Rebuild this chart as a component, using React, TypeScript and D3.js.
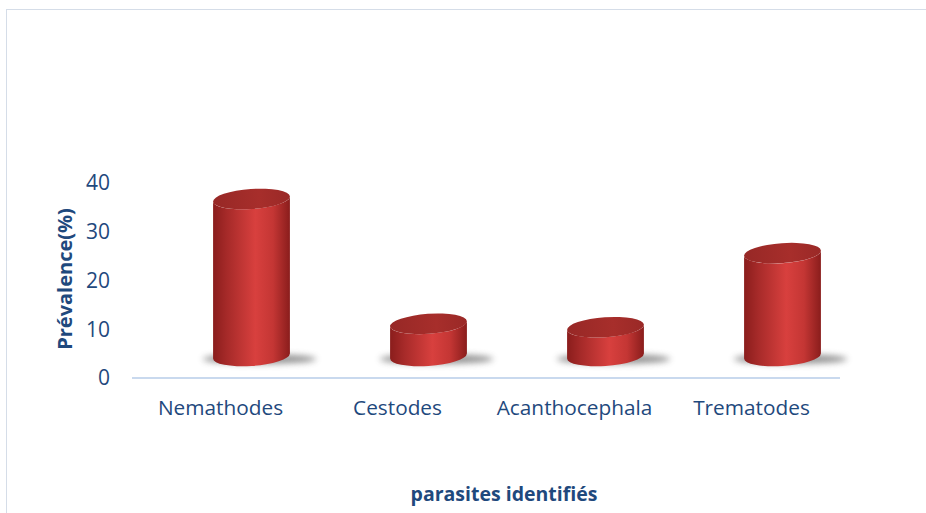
import React from "react";
import * as d3 from "d3";

const categories = ["Nemathodes", "Cestodes", "Acanthocephala", "Trematodes"];
const values = [32.2, 6.6, 5.9, 21.1];
const yTicks = [0, 10, 20, 30, 40];
const yTitle = "Prévalence(%)";
const xTitle = "parasites identifiés";

const W = 926;
const H = 513;

function extremes(cx: number, cy: number, rx: number, ry: number, deg: number) {
  const th = (deg * Math.PI) / 180;
  const t0 = Math.atan2(-ry * Math.sin(th), rx * Math.cos(th));
  const pt = (t: number) => [
    cx + rx * Math.cos(t) * Math.cos(th) - ry * Math.sin(t) * Math.sin(th),
    cy + rx * Math.cos(t) * Math.sin(th) + ry * Math.sin(t) * Math.cos(th),
  ];
  const a = pt(t0);
  const b = pt(t0 + Math.PI);
  return a[0] < b[0] ? { left: a, right: b } : { left: b, right: a };
}

export default function App() {
  const x = d3.scaleBand<string>().domain(categories).range([132, 840]).padding(0);
  const y = d3.scaleLinear().domain([0, 40]).range([378, 183]);
  const depthDx = 31;
  const depthDy = 22;
  const rx = 38.5;
  const ry = 10;
  const tilt = -4;
  const font = "'Open Sans', 'Liberation Sans', sans-serif";
  const blue = "#1F497D";

  return (
    <svg width={W} height={H} style={{ position: "absolute", left: 0, top: 0 }} xmlns="http://www.w3.org/2000/svg">
      <defs>
        <linearGradient id="side" x1="0" x2="1" y1="0" y2="0">
          <stop offset="0%" stopColor="#8a1d1c" />
          <stop offset="18%" stopColor="#a62a29" />
          <stop offset="55%" stopColor="#d8403e" />
          <stop offset="78%" stopColor="#c43634" />
          <stop offset="100%" stopColor="#8a1d1c" />
        </linearGradient>
        <linearGradient id="top" x1="0" x2="1" y1="0" y2="0">
          <stop offset="0%" stopColor="#972826" />
          <stop offset="60%" stopColor="#a72e2b" />
          <stop offset="100%" stopColor="#9a2927" />
        </linearGradient>
        <filter id="blur" x="-50%" y="-200%" width="200%" height="500%">
          <feGaussianBlur stdDeviation="3" />
        </filter>
      </defs>
      <rect x={0} y={0} width={W} height={H} fill="#ffffff" />
      <rect x={6.5} y={9.5} width={W + 10} height={H + 10} fill="none" stroke="#d5dde8" strokeWidth={1} />

      {yTicks.map((t) => (
        <text key={t} x={110} y={y(t)} dy="0.35em" textAnchor="end" fontFamily={font} fontSize={21} fill={blue}>
          {t}
        </text>
      ))}

      <text
        transform={`translate(72,${279}) rotate(-90)`}
        textAnchor="middle"
        fontFamily={font}
        fontWeight="bold"
        fontSize={20}
        fill={blue}
      >
        {yTitle}
      </text>

      <line x1={132} x2={840} y1={y(0)} y2={y(0)} stroke="#c9d9ee" strokeWidth={2} />

      {categories.map((c, i) => {
        const cx = (x(c) as number) + x.bandwidth() / 2 + depthDx;
        const baseY = y(0) - depthDy;
        const topY = y(values[i]) - depthDy;
        const tp = extremes(cx, topY, rx, ry, tilt);
        const bt = extremes(cx, baseY, rx, ry, tilt);
        const side = `M${tp.left[0]},${tp.left[1]} L${bt.left[0]},${bt.left[1]} A${rx},${ry} ${tilt} 0 0 ${bt.right[0]},${bt.right[1]} L${tp.right[0]},${tp.right[1]} A${rx},${ry} ${tilt} 0 1 ${tp.left[0]},${tp.left[1]} Z`;
        return (
          <g key={c}>
            <ellipse cx={cx + 8} cy={baseY + 3} rx={rx + 18} ry={5} fill="#6f6f6f" opacity={0.75} filter="url(#blur)" />
            <path d={side} fill="url(#side)" />
            <ellipse cx={cx} cy={topY} rx={rx} ry={ry} fill="url(#top)" transform={`rotate(${tilt},${cx},${topY})`} />
          </g>
        );
      })}

      {categories.map((c) => (
        <text
          key={c}
          x={(x(c) as number) + x.bandwidth() / 2}
          y={408}
          dy="0.35em"
          textAnchor="middle"
          fontFamily={font}
          fontSize={20.8}
          fill={blue}
        >
          {c}
        </text>
      ))}

      <text x={504} y={494} dy="0.35em" textAnchor="middle" fontFamily={font} fontWeight="bold" fontSize={19.5} fill={blue}>
        {xTitle}
      </text>
    </svg>
  );
}
